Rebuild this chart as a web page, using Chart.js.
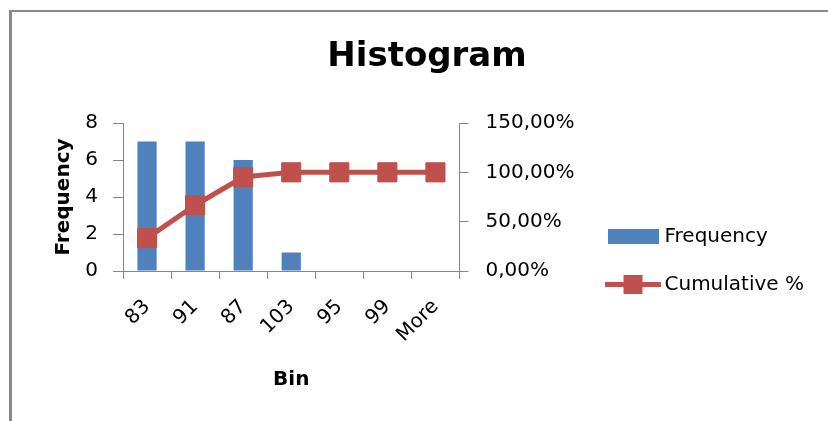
<!DOCTYPE html>
<html><head><meta charset="utf-8">
<script src="https://cdn.jsdelivr.net/npm/chart.js@4/dist/chart.umd.min.js"></script>
<style>
html,body{margin:0;padding:0;background:#fff;}
#wrap{position:relative;width:828px;height:421px;overflow:hidden;}
#frame{position:absolute;left:9px;top:10px;width:830px;height:420px;border-left:3px solid #898989;border-top:2px solid #898989;}
canvas{position:absolute;left:0;top:0;}
</style></head><body>
<div id="wrap"><div id="frame"></div><canvas id="c" width="828" height="421"></canvas></div>
<script>
const categories = ['83','91','87','103','95','99','More'];
const frequency = [7,7,6,1,0,0,0];
const cumulativePct = [33.33,66.67,95.24,100,100,100,100];
const leftTicks = [0,2,4,6,8];
const rightTicks = [0,50,100,150];

const BLUE = '#4F81BD', RED = '#C0504D', AXIS = '#868686';
const FONT = "'DejaVu Sans'";

function makeIcon(kind){
  const c = document.createElement('canvas');
  const g = c.getContext('2d');
  if (kind === 'bar') {
    c.width = 51; c.height = 15;
    g.fillStyle = BLUE; g.fillRect(0,0,51,15);
  } else {
    c.width = 56; c.height = 19;
    g.fillStyle = RED;
    g.fillRect(0,7,56,5);
    g.fillRect(18,0,19,19);
  }
  return c;
}
const icons = [makeIcon('bar'), makeIcon('line')];

new Chart(document.getElementById('c'), {
  data: {
    labels: categories,
    datasets: [
      { type:'bar', label:'Frequency', data:frequency, yAxisID:'y', backgroundColor:BLUE,
        barPercentage:1, categoryPercentage:0.4, order:2 },
      { type:'line', label:'Cumulative %', data:cumulativePct, yAxisID:'y1', borderColor:RED,
        backgroundColor:RED, borderWidth:5, tension:0, pointStyle:'rect', pointRadius:13.5,
        pointBackgroundColor:RED, pointBorderColor:RED, pointBorderWidth:1, order:1 }
    ]
  },
  options: {
    responsive:false, animation:false,
    layout:{ padding:{ left:40, right:14, top:0, bottom:25 } },
    plugins:{
      tooltip:{enabled:false},
      title:{ display:true, text:'Histogram', color:'#000',
        font:{family:FONT, size:34, weight:'bold'}, padding:{top:36.6, bottom:45.6} },
      legend:{ position:'right', align:'start', maxWidth:400,
        title:{ display:true, text:' ', font:{size:10}, padding:{top:186.5, bottom:0} },
        labels:{ usePointStyle:true, pointStyleWidth:42, padding:28, color:'#000',
          font:{family:FONT, size:20},
          generateLabels:(chart)=> chart.data.datasets.map((ds,i)=>({
            text: ds.label, datasetIndex:i, pointStyle: icons[i],
            fillStyle:'rgba(0,0,0,0)', strokeStyle:'rgba(0,0,0,0)', lineWidth:0, hidden:false, fontColor:'#000'
          }))
        }
      }
    },
    scales:{
      x:{ type:'category', offset:true,
        grid:{ display:true, drawOnChartArea:false, drawTicks:true, tickLength:8, color:AXIS, offset:true },
        border:{ display:true, color:AXIS },
        ticks:{ color:'#000', font:{family:FONT, size:20}, minRotation:45, maxRotation:45, padding:16, autoSkip:false },
        title:{ display:true, text:'Bin', color:'#000', font:{family:FONT, size:20, weight:'bold'}, padding:{top:0, bottom:4} },
        afterFit:(s)=>{ s.height = 125; }
      },
      y:{ position:'left', min:leftTicks[0], max:leftTicks[leftTicks.length-1],
        grid:{ display:true, drawOnChartArea:false, drawTicks:true, tickLength:10, color:AXIS },
        border:{ display:true, color:AXIS },
        ticks:{ stepSize:leftTicks[1]-leftTicks[0], color:'#000', font:{family:FONT, size:20}, padding:15 },
        title:{ display:true, text:'Frequency', color:'#000', font:{family:FONT, size:20, weight:'bold'}, padding:{top:12, bottom:0} },
        afterFit:(s)=>{ s.width = 83; }
      },
      y1:{ position:'right', min:rightTicks[0], max:rightTicks[rightTicks.length-1],
        grid:{ display:true, drawOnChartArea:false, drawTicks:true, tickLength:9, color:AXIS },
        border:{ display:true, color:AXIS },
        ticks:{ stepSize:rightTicks[1]-rightTicks[0], color:'#000', font:{family:FONT, size:20}, padding:17,
          callback:(v)=> v.toFixed(2).replace('.', ',') + '%' },
        afterFit:(s)=>{ s.width = 125; }
      }
    }
  }
});
</script>
</body></html>
